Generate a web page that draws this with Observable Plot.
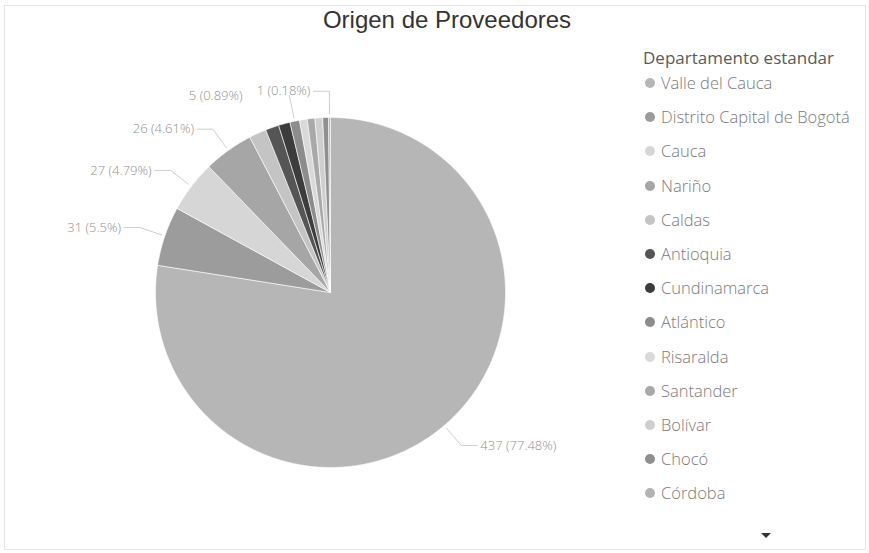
<!DOCTYPE html>
<html><head><meta charset="utf-8">
<script src="https://cdn.jsdelivr.net/npm/d3@7"></script>
<script src="https://cdn.jsdelivr.net/npm/@observablehq/plot@0.6"></script>
<style>
body{margin:0;background:#fff;}
#wrap{position:relative;width:869px;height:553px;overflow:hidden;font-family:"Open Sans",sans-serif;}
#frame{position:absolute;left:4px;top:5px;right:3px;bottom:3px;border:1px solid #e4e4e4;}
#chart{position:absolute;left:0;top:0;}
#title{position:absolute;top:6px;left:447px;transform:translateX(-50%);font-family:"Liberation Sans",Arial,sans-serif;font-size:24px;color:#333;white-space:nowrap;}
#legend{position:absolute;left:643px;top:45px;color:#7a7a7a;}
#legend .lt{font-size:17px;color:#5a5a5a;height:26px;line-height:26px;margin-bottom:0px;}
#legend .it{font-size:16.5px;height:34.2px;line-height:24px;display:flex;align-items:flex-start;white-space:nowrap;font-weight:300;}
#legend .dot{display:inline-block;width:10px;height:10px;border-radius:50%;margin:7px 6px 0 2px;}
#arrow{position:absolute;left:761px;top:533px;width:0;height:0;border-left:5px solid transparent;border-right:5px solid transparent;border-top:5px solid #333;}
</style></head><body>
<div id="wrap">
  <div id="frame"></div>
  <div id="chart"></div>
  <div id="title">Origen de Proveedores</div>
  <div id="legend"></div>
  <div id="arrow"></div>
</div>
<script>
const legendTitle = "Departamento estandar";
const departamentos = ["Valle del Cauca","Distrito Capital de Bogotá","Cauca","Nariño","Caldas","Antioquia","Cundinamarca","Atlántico","Risaralda","Santander","Bolívar","Chocó","Córdoba"];
const proveedores = [437,31,27,26,9,7,6,5,4,4,4,3,1];
const colores = ["#b6b6b6","#9c9c9c","#d6d6d6","#a6a6a6","#c4c4c4","#555555","#3c3c3c","#8c8c8c","#d9d9d9","#a9a9a9","#cfcfcf","#8f8f8f","#b3b3b3"];
const etiquetados = ["Valle del Cauca","Distrito Capital de Bogotá","Cauca","Nariño","Atlántico","Córdoba"];

const total = d3.sum(proveedores);
const arcs = d3.pie().sort(null).value(d => d)(proveedores);
const R = 175; // px per unit radius

const poly = [];
arcs.forEach((a, i) => {
  const name = departamentos[i];
  const n = Math.max(2, Math.ceil((a.endAngle - a.startAngle) / 0.01));
  poly.push({name, x: 0, y: 0});
  for (let k = 0; k <= n; k++) {
    const t = a.startAngle + (a.endAngle - a.startAngle) * k / n;
    poly.push({name, x: Math.sin(t), y: -Math.cos(t)});
  }
  poly.push({name, x: 0, y: 0});
});

const fmtPct = v => (+(v / total * 100).toFixed(2)).toString();
let labels = arcs.map((a, i) => ({a, i, name: departamentos[i], value: proveedores[i]}))
  .filter(d => etiquetados.includes(d.name))
  .map(d => {
    const mid = (d.a.startAngle + d.a.endAngle) / 2;
    const side = Math.sin(mid) < 0 ? -1 : 1;
    const text = `${d.value} (${fmtPct(d.value)}%)`;
    const x1 = Math.sin(mid), y1 = -Math.cos(mid);
    const x2 = 1.15 * x1, y2 = 1.15 * y1;
    const x3 = x2 + side * 16 / R;
    return {name: d.name, mid, side, text, x1, y1, x2, y2, x3, y3: y2, shifted: false};
  });
// simple collision avoidance for left labels near the top
const left = labels.filter(d => d.side < 0).sort((a, b) => b.mid - a.mid);
const placed = [];
for (const d of left) {
  const w = d.text.length * 7.2 / R;
  let xEnd = d.x3 - 3 / R;
  for (const p of placed) {
    if (Math.abs(p.y3 - d.y3) * R < 16 && xEnd > p.xStart - 3 / R) { xEnd = p.xStart - 3 / R; d.shifted = true; }
  }
  d.xEnd = xEnd; d.xStart = xEnd - w;
  placed.push(d);
}
labels.forEach(d => { if (d.side > 0) d.xEnd = d.x3 + 3 / R; });
const leaders = [];
labels.forEach(d => {
  leaders.push({name: d.name, x: d.x1 * 1.02, y: d.y1 * 1.02});
  leaders.push({name: d.name, x: d.x2, y: d.y2});
  if (!d.shifted) leaders.push({name: d.name, x: d.x3, y: d.y3});
});

const chart = Plot.plot({
  width: 869, height: 553, margin: 0,
  x: {domain: [-1, 1], range: [155, 505], axis: null},
  y: {domain: [-1, 1], range: [117, 467], axis: null},
  color: {type: "ordinal", domain: departamentos, range: colores},
  style: {background: "transparent", overflow: "visible"},
  marks: [
    Plot.line(poly, {x: "x", y: "y", z: "name", fill: "name", stroke: "white", strokeWidth: 0.6, curve: "linear"}),
    Plot.line(leaders, {x: "x", y: "y", z: "name", stroke: "#cfcfcf", strokeWidth: 1}),
    Plot.text(labels.filter(d => d.side < 0), {x: "xEnd", y: "y3", text: "text", textAnchor: "end",
      fill: "#8f8f8f", fontSize: 13, fontFamily: "Open Sans", fontWeight: 300}),
    Plot.text(labels.filter(d => d.side > 0), {x: "xEnd", y: "y3", text: "text", textAnchor: "start",
      fill: "#8f8f8f", fontSize: 13, fontFamily: "Open Sans", fontWeight: 300})
  ]
});
document.getElementById("chart").appendChild(chart);

const lg = document.getElementById("legend");
const t = document.createElement("div"); t.className = "lt"; t.textContent = legendTitle; lg.appendChild(t);
departamentos.forEach((n, i) => {
  const it = document.createElement("div"); it.className = "it";
  const dot = document.createElement("span"); dot.className = "dot"; dot.style.background = colores[i];
  const s = document.createElement("span"); s.textContent = n;
  it.appendChild(dot); it.appendChild(s); lg.appendChild(it);
});
</script>
</body></html>
